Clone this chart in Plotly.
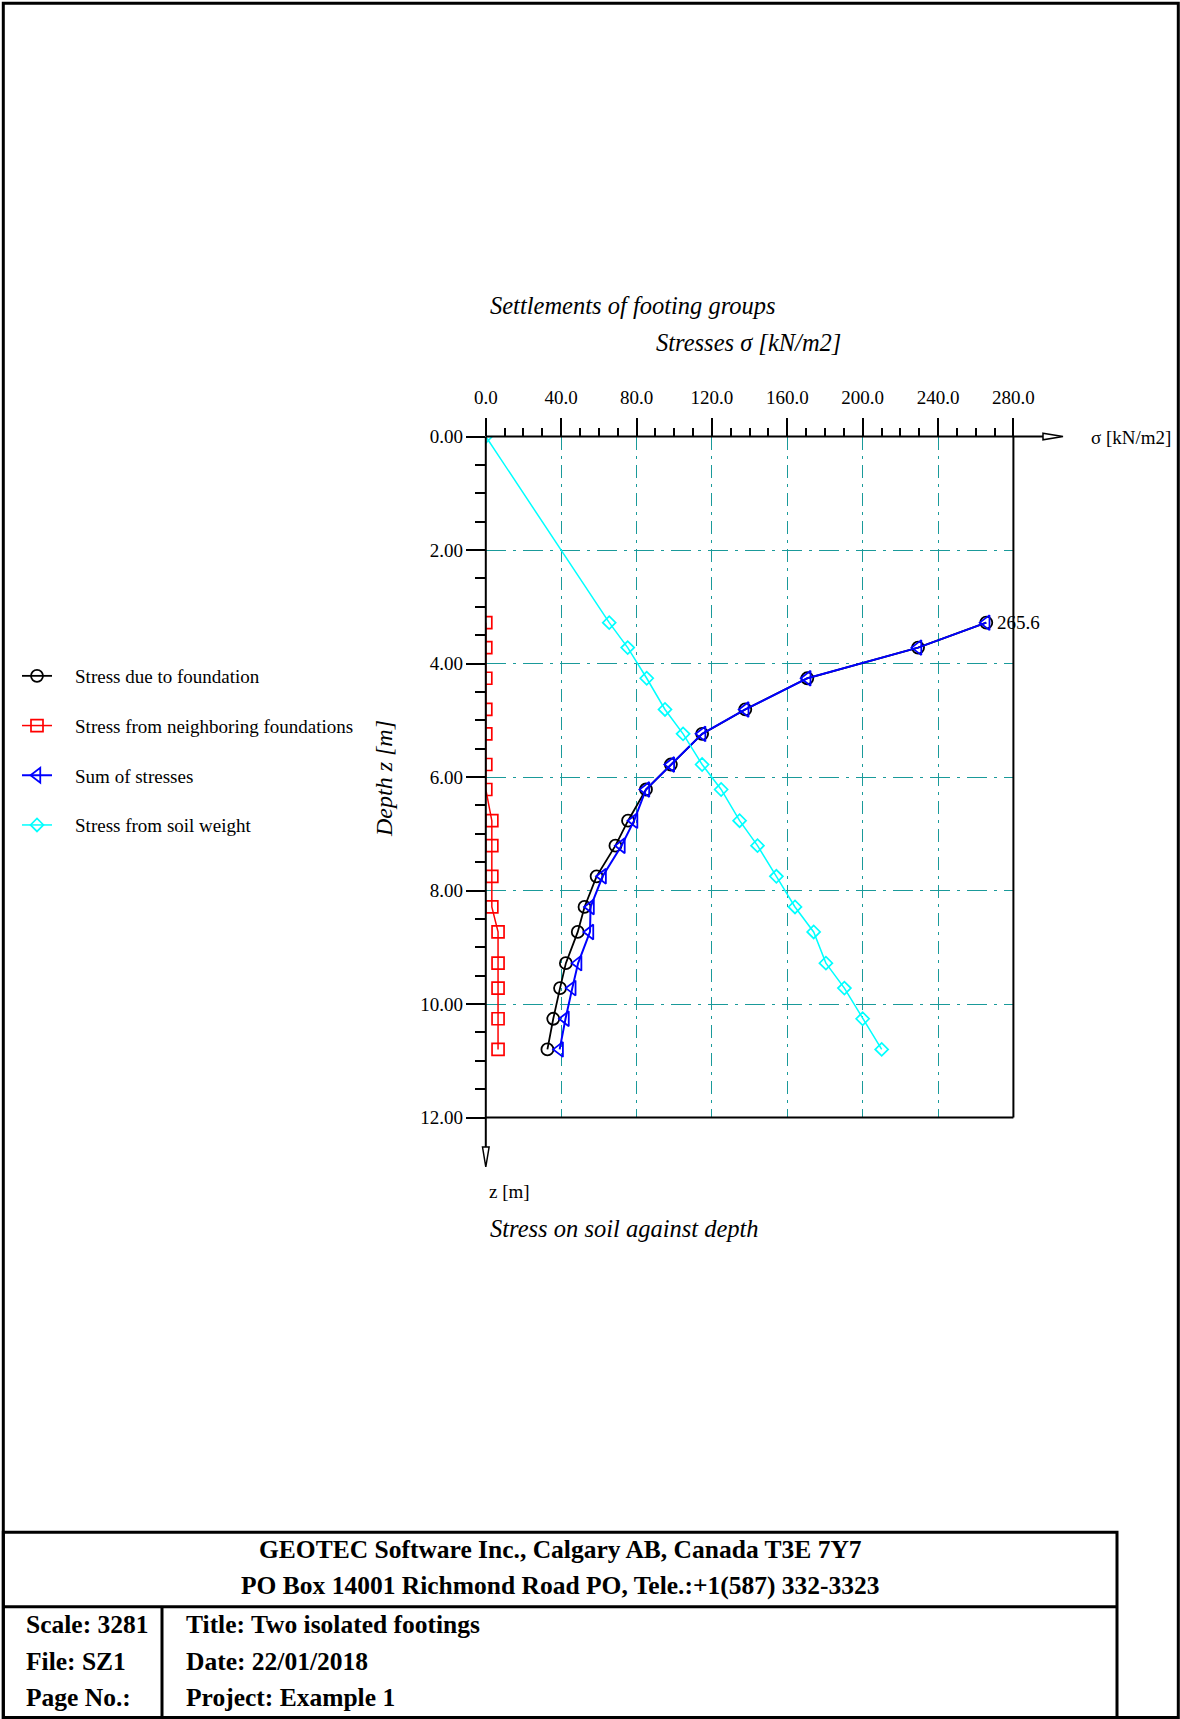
import plotly.graph_objects as go

# ---------------- data ----------------
depth = [3.28, 3.72, 4.26, 4.81, 5.24, 5.78, 6.22, 6.77, 7.21, 7.75, 8.29, 8.73, 9.28, 9.72, 10.26, 10.80]
stress_foundation = [265.6, 229.4, 170.6, 137.7, 114.8, 98.2, 85.0, 75.5, 68.8, 58.8, 52.4, 48.8, 42.5, 39.4, 35.8, 32.7]
stress_neighbors = [0.0, 0.0, 0.0, 0.0, 0.0, 0.0, 0.0, 3.2, 3.2, 3.2, 3.2, 6.5, 6.5, 6.5, 6.5, 6.5]
stress_sum = [265.6, 229.4, 170.6, 137.7, 114.8, 98.2, 85.0, 78.7, 72.0, 62.0, 55.6, 55.3, 49.0, 45.9, 42.3, 39.2]
depth_soil = [0.0, 3.28, 3.72, 4.26, 4.81, 5.24, 5.78, 6.22, 6.77, 7.21, 7.75, 8.29, 8.73, 9.28, 9.72, 10.26, 10.80]
stress_soil = [0.0, 65.5, 75.3, 85.4, 95.1, 104.7, 114.8, 124.9, 134.7, 144.2, 154.2, 164.1, 174.0, 180.5, 190.3, 200.0, 210.1]

series_names = ["Stress due to foundation", "Stress from neighboring foundations",
                "Sum of stresses", "Stress from soil weight"]
x_ticks = [0, 40, 80, 120, 160, 200, 240, 280]
z_ticks = [0, 2, 4, 6, 8, 10, 12]

W, H = 1180, 1719
FONT = "Liberation Serif"
TEAL = "#1a9a9a"
PAD = "\u00a0\u00a0\u00a0\u2009"  # gap between legend symbol and text


def px(X):
    return X / W


def py(Y):
    return 1 - Y / H


# plot area in pixels
X0, X1 = 485.8, 1013.4
Y0, Y1 = 436.5, 1117.5

fig = go.Figure()

fig.add_trace(go.Scatter(
    x=stress_foundation, y=depth, mode="lines+markers", name=PAD + series_names[0],
    legendgroup="a",
    line=dict(color="black", width=1.8),
    marker=dict(symbol="circle-open", size=12, color="black", line=dict(width=1.8)),
))
fig.add_trace(go.Scatter(
    x=stress_neighbors, y=depth, mode="lines+markers", name=PAD + series_names[1],
    legendgroup="b",
    line=dict(color="#ff0000", width=1.5),
    marker=dict(symbol="square-open", size=12, color="#ff0000", line=dict(width=1.7)),
))
fig.add_trace(go.Scatter(
    x=stress_sum, y=depth, mode="lines+markers", name=PAD + series_names[2],
    legendgroup="c",
    line=dict(color="#0000ff", width=2),
    marker=dict(symbol="triangle-left-open", size=13, color="#0000ff", line=dict(width=1.8)),
))
fig.add_trace(go.Scatter(
    x=stress_soil, y=depth_soil, mode="lines+markers", name=PAD + series_names[3],
    legendgroup="d",
    line=dict(color="#00ffff", width=1.5),
    marker=dict(symbol="diamond-open", size=10, color="#00ffff", line=dict(width=1.7)),
))

fig.update_xaxes(
    domain=[px(X0), px(X1)], range=[0, 280], side="top",
    tickvals=x_ticks, ticktext=[f"{v:.1f}" for v in x_ticks],
    ticks="outside", ticklen=18, tickwidth=1.5, tickcolor="black",
    ticklabelstandoff=6, automargin=False,
    minor=dict(dtick=10, tick0=0, ticks="outside", ticklen=8, tickwidth=1.5,
               tickcolor="black", showgrid=False),
    showgrid=True, gridcolor=TEAL, gridwidth=1, griddash="13px,6px,3px,6px",
    zeroline=False, showline=False,
    tickfont=dict(family=FONT, size=19, color="black"),
)
fig.update_yaxes(
    domain=[py(Y1), py(Y0)], range=[12, 0],
    tickvals=z_ticks, ticktext=[f"{v:.2f}" for v in z_ticks],
    ticks="outside", ticklen=19, tickwidth=1.5, tickcolor="black",
    ticklabelstandoff=-1, automargin=False,
    minor=dict(dtick=0.5, tick0=0, ticks="outside", ticklen=10, tickwidth=1.5,
               tickcolor="black", showgrid=False),
    showgrid=True, gridcolor=TEAL, gridwidth=1, griddash="20px,7px,3px,7px",
    zeroline=False, showline=False,
    tickfont=dict(family=FONT, size=19, color="black"),
)

shapes = []
# outer page border
shapes.append(dict(type="rect", xref="paper", yref="paper",
                   x0=px(3.3), x1=px(1178.3), y0=py(1717.5), y1=py(3.3),
                   line=dict(color="black", width=3)))
# title block
shapes.append(dict(type="rect", xref="paper", yref="paper",
                   x0=px(3.3), x1=px(1117), y0=py(1717.5), y1=py(1532.3),
                   line=dict(color="black", width=3)))
shapes.append(dict(type="line", xref="paper", yref="paper",
                   x0=px(3.3), x1=px(1117), y0=py(1606.7), y1=py(1606.7),
                   line=dict(color="black", width=3)))
shapes.append(dict(type="line", xref="paper", yref="paper",
                   x0=px(162), x1=px(162), y0=py(1606.7), y1=py(1717.5),
                   line=dict(color="black", width=3)))
# plot frame (right and bottom)
shapes.append(dict(type="line", xref="paper", yref="paper",
                   x0=px(X1), x1=px(X1), y0=py(Y0), y1=py(Y1),
                   line=dict(color="black", width=2)))
shapes.append(dict(type="line", xref="paper", yref="paper",
                   x0=px(X0), x1=px(X1), y0=py(Y1), y1=py(Y1),
                   line=dict(color="black", width=2)))
# top axis line with arrow
shapes.append(dict(type="line", xref="paper", yref="paper",
                   x0=px(X0), x1=px(1045), y0=py(Y0), y1=py(Y0),
                   line=dict(color="black", width=2)))
shapes.append(dict(type="path", xref="paper", yref="paper",
                   path=f"M {px(1043)},{py(Y0 - 3.3)} L {px(1063)},{py(Y0)} L {px(1043)},{py(Y0 + 3.3)} Z",
                   fillcolor="white", line=dict(color="black", width=1.5)))
# left axis line with arrow
shapes.append(dict(type="line", xref="paper", yref="paper",
                   x0=px(X0), x1=px(X0), y0=py(Y0), y1=py(1149),
                   line=dict(color="black", width=2)))
shapes.append(dict(type="path", xref="paper", yref="paper",
                   path=f"M {px(X0 - 3.3)},{py(1147)} L {px(X0)},{py(1167)} L {px(X0 + 3.3)},{py(1147)} Z",
                   fillcolor="white", line=dict(color="black", width=1.5)))

annotations = []


def txt(text, X, Y, size=19, style="normal", weight="normal", xanchor="left", angle=0):
    annotations.append(dict(
        text=text, x=px(X), y=py(Y), xref="paper", yref="paper",
        xanchor=xanchor, yanchor="middle", showarrow=False, textangle=angle,
        font=dict(family=FONT, size=size, color="black", style=style, weight=weight),
    ))


txt("Settlements of footing groups", 488, 306, size=24.5, style="italic")
txt("Stresses σ [kN/m2]", 654, 343, size=24.5, style="italic")
txt("σ [kN/m2]", 1089, 437)
txt("z [m]", 487, 1191)
txt("Stress on soil against depth", 488, 1228, size=24.5, style="italic")
txt("Depth z [m]", 384, 779, size=24, style="italic", xanchor="center", angle=-90)

TB = 25.5
txt("GEOTEC Software Inc., Calgary AB, Canada T3E 7Y7", 560, 1549, size=TB, weight="bold", xanchor="center")
txt("PO Box 14001 Richmond Road PO, Tele.:+1(587) 332-3323", 560, 1585, size=TB, weight="bold", xanchor="center")
txt("Scale: 3281", 24, 1624, size=TB, weight="bold")
txt("File: SZ1", 24, 1661, size=TB, weight="bold")
txt("Page No.:", 24, 1697, size=TB, weight="bold")
txt("Title: Two isolated footings", 184, 1624, size=TB, weight="bold")
txt("Date: 22/01/2018", 184, 1661, size=TB, weight="bold")
txt("Project: Example 1", 184, 1697, size=TB, weight="bold")

# value label at the top point
annotations.append(dict(
    text=f"{stress_foundation[0]:.1f}", x=stress_foundation[0], y=depth[0],
    xref="x", yref="y", xanchor="left", yanchor="middle", xshift=9, showarrow=False,
    font=dict(family=FONT, size=19, color="black"),
))

fig.update_layout(
    width=W, height=H,
    margin=dict(l=0, r=0, t=0, b=0, autoexpand=False),
    paper_bgcolor="white", plot_bgcolor="white",
    shapes=shapes, annotations=annotations,
    showlegend=True,
    legend=dict(
        x=px(17), y=py(657), xanchor="left", yanchor="top",
        font=dict(family=FONT, size=19, color="black"),
        bgcolor="rgba(0,0,0,0)", borderwidth=0,
        tracegroupgap=22, itemwidth=30,
    ),
)

fig.write_html("out.html", config={"displayModeBar": False},
               post_script="document.body.style.margin='0';")
